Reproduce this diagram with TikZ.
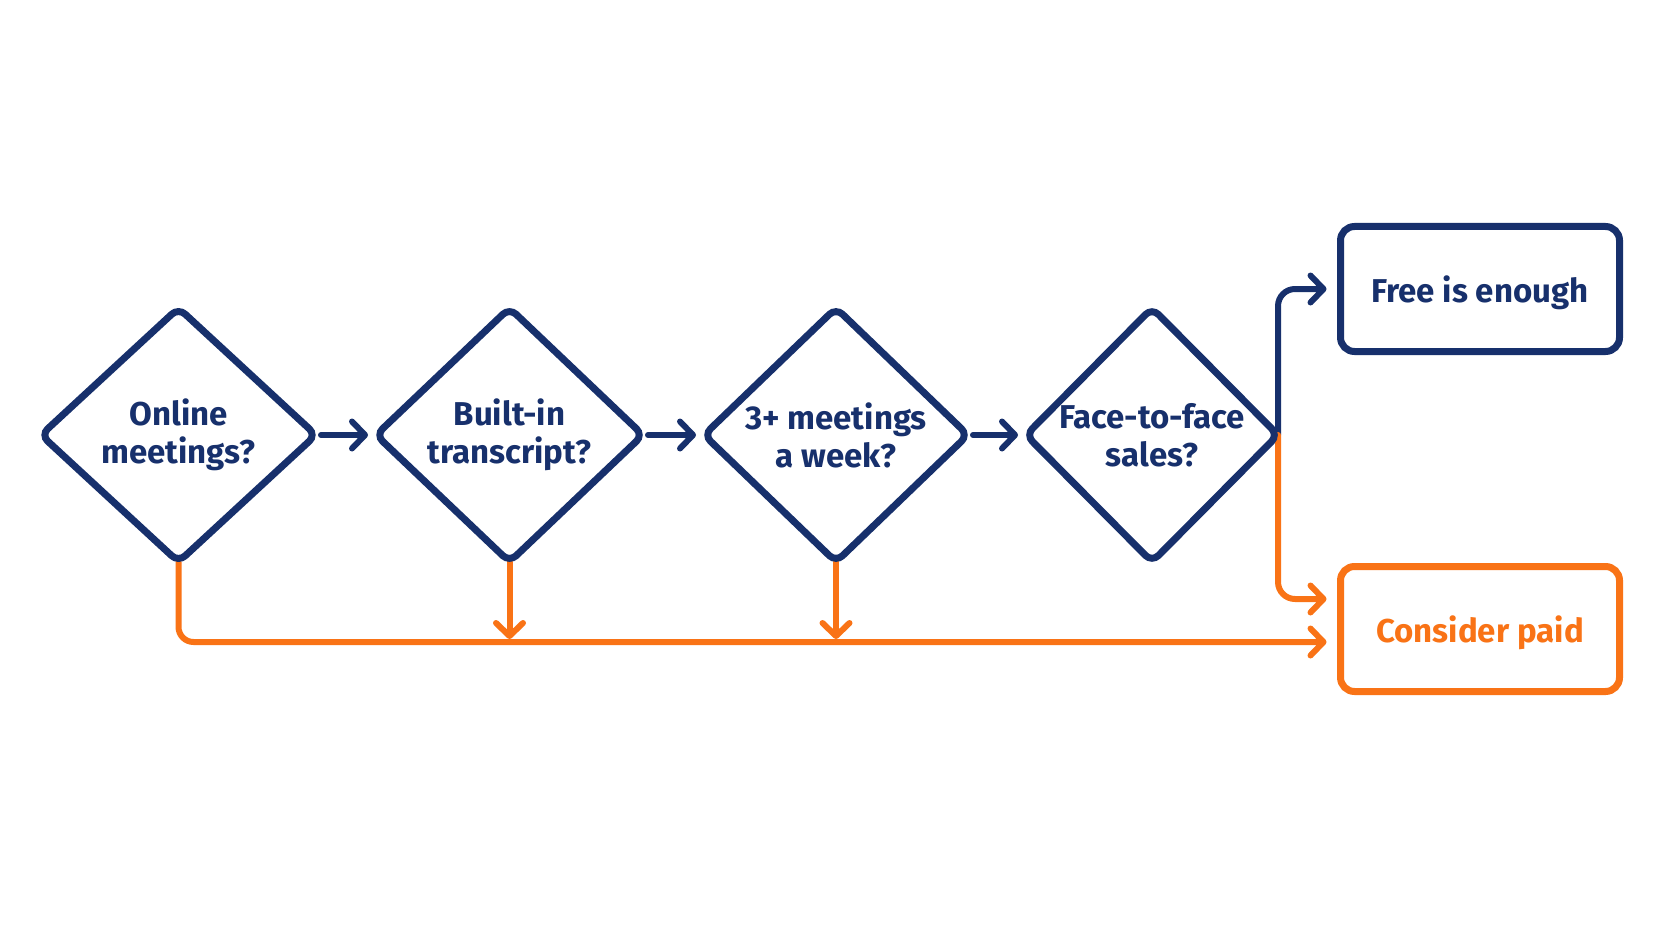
\documentclass[tikz,border=0pt]{standalone}
\usepackage{fontspec}
\setmainfont{Fira Sans}
\usetikzlibrary{shapes.geometric,arrows.meta,calc,backgrounds}
\definecolor{navy}{HTML}{17306C}
\definecolor{orng}{HTML}{F97316}
\begin{document}
\begin{tikzpicture}[x=1pt,y=1pt,
  lbl/.style={font=\bfseries\fontsize{33}{38}\selectfont},
  dia/.style={diamond, draw=navy, line width=7pt, rounded corners=9pt,
    inner sep=0pt, outer sep=0pt, align=center, text=navy, lbl,
    minimum height=254pt},
  endbox/.style={rectangle, rounded corners=14pt, line width=7pt,
    minimum width=279pt, minimum height=125pt, inner sep=0pt, outer sep=0pt,
    text depth=0pt, lbl},
  tipb/.style={-{Straight Barb[length=13pt,width=27pt,round]}},
  conn/.style={line width=6pt, tipb, line cap=round},
  navyconn/.style={conn, draw=navy},
  orconn/.style={conn, draw=orng, rounded corners=17pt}
]
\useasboundingbox (0,0) rectangle (1672,-941);

\node[dia, minimum width=275pt] (d1) at (178.5,-435) {Online\\meetings?};
\node[dia, minimum width=267pt] (d2) at (509.5,-435) {Built-in\\transcript?};
\node[dia, minimum width=264pt] (d3) at (836,-435) {3+ meetings\\a week?};
\node[dia, minimum width=252pt] (d4) at (1152,-435) {Face-to-face\\sales?};

\node[endbox, draw=navy, text=navy] (free) at (1480,-289) {Free is enough};
\node[endbox, draw=orng, text=orng] (cp) at (1480,-629) {Consider paid};

\coordinate (j2) at ($(d2.south)+(0,-77)$);
\coordinate (j3) at ($(d3.south)+(0,-77)$);

\begin{scope}[on background layer]
  \fill[white] (0,0) rectangle (1672,-941);
  \draw[navyconn, shorten <=5pt, shorten >=8pt] (d1.east) -- (d2.west);
  \draw[navyconn, shorten <=5pt, shorten >=8pt] (d2.east) -- (d3.west);
  \draw[navyconn, shorten <=5pt, shorten >=8pt] (d3.east) -- (d4.west);
  \draw[navyconn, rounded corners=17pt] (d4.east) |- ($(free.west)+(-14,0)$);
  \draw[orconn] (d4.east) |- ($(cp.west)+(-14,30)$);
  \draw[orconn, rounded corners=15pt] (d1.south) |- ($(cp.west)+(-14,-13)$);
  \draw[orconn] (d2.south) -- (j2);
  \draw[orconn] (d3.south) -- (j3);
\end{scope}
\end{tikzpicture}
\end{document}
